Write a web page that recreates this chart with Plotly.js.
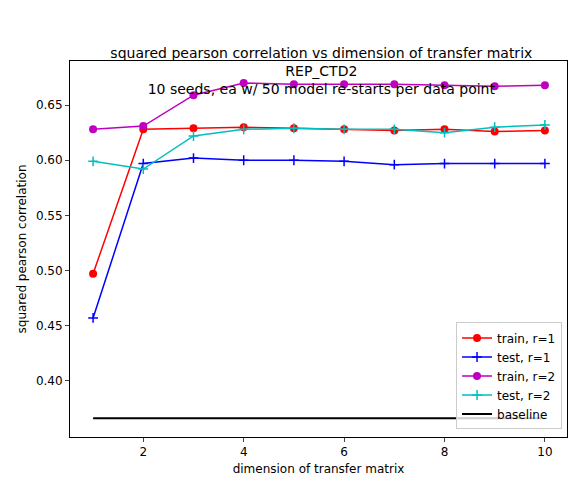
<!DOCTYPE html>
<html>
<head>
<script src="https://cdn.plot.ly/plotly-3.0.1.min.js"></script>
<style>body{margin:0;} #plot{width:579px;height:489px;}</style>
</head>
<body>
<div id="plot"></div>
<script>
const dims = [1, 2, 3, 4, 5, 6, 7, 8, 9, 10];
const trainR1 = [0.497, 0.628, 0.629, 0.630, 0.629, 0.628, 0.627, 0.628, 0.626, 0.627];
const testR1 = [0.457, 0.597, 0.602, 0.600, 0.600, 0.599, 0.596, 0.597, 0.597, 0.597];
const trainR2 = [0.628, 0.631, 0.659, 0.670, 0.669, 0.669, 0.669, 0.668, 0.667, 0.668];
const testR2 = [0.599, 0.592, 0.622, 0.628, 0.629, 0.628, 0.628, 0.625, 0.630, 0.632];
const baselineX = [1, 10];
const baselineY = [0.366, 0.366];

const circle = c => ({ symbol: 'circle', size: 8, color: c });
const plus = c => ({ symbol: 'cross-thin', size: 7, color: c, line: { color: c, width: 1.5 } });

const traces = [
    { x: dims, y: trainR1, mode: 'lines+markers', name: 'train, r=1', line: { color: 'red', width: 1.5 }, marker: circle('red') },
    { x: dims, y: testR1, mode: 'lines+markers', name: 'test, r=1', line: { color: 'blue', width: 1.5 }, marker: plus('blue') },
    { x: dims, y: trainR2, mode: 'lines+markers', name: 'train, r=2', line: { color: '#bf00bf', width: 1.5 }, marker: circle('#bf00bf') },
    { x: dims, y: testR2, mode: 'lines+markers', name: 'test, r=2', line: { color: '#00bfbf', width: 1.5 }, marker: plus('#00bfbf') },
    { x: baselineX, y: baselineY, mode: 'lines', name: 'baseline', line: { color: 'black', width: 2 } }
];

const axis = {
    showgrid: false, zeroline: false, showline: true, mirror: true,
    linecolor: 'black', linewidth: 1, ticks: 'outside', ticklen: 4,
    tickfont: { size: 12, color: 'black' }
};

Plotly.newPlot('plot', traces, {
    width: 579, height: 489,
    font: { family: 'DejaVu Sans', color: 'black' },
    paper_bgcolor: 'white', plot_bgcolor: 'white',
    margin: { l: 70, r: 12, t: 61, b: 52 },
    title: {
        text: 'squared pearson correlation vs dimension of transfer matrix<br>REP_CTD2<br>10 seeds, ea w/ 50 model re-starts per data point',
        font: { size: 14 }, x: 0.555, xanchor: 'center', y: 0.882, yanchor: 'bottom'
    },
    xaxis: Object.assign({}, axis, {
        range: [0.54, 10.44], tickvals: [2, 4, 6, 8, 10],
        title: { text: 'dimension of transfer matrix', font: { size: 12 }, standoff: 6 }
    }),
    yaxis: Object.assign({}, axis, {
        range: [0.349, 0.690], tickvals: [0.40, 0.45, 0.50, 0.55, 0.60, 0.65], tickformat: '.2f',
        title: { text: 'squared pearson correlation', font: { size: 12 }, standoff: 6 }
    }),
    legend: {
        x: 0.99, y: 0.02, xanchor: 'right', yanchor: 'bottom',
        bordercolor: '#ccc', borderwidth: 1, bgcolor: 'rgba(255,255,255,0.8)',
        font: { size: 12 }, tracegroupgap: 0
    }
}, { displayModeBar: false });
</script>
</body>
</html>
